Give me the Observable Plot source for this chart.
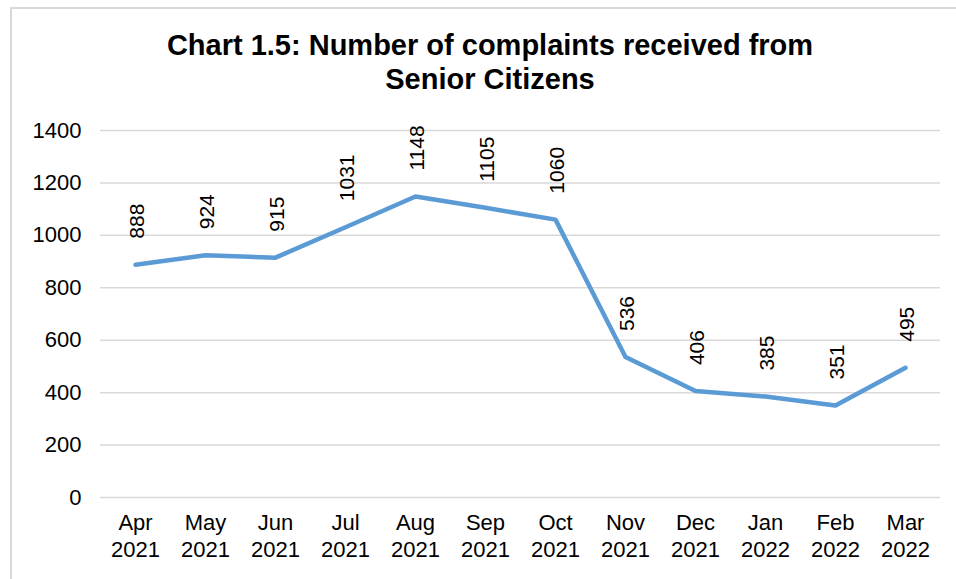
<!DOCTYPE html>
<html>
<head>
<meta charset="utf-8">
<script src="https://cdn.jsdelivr.net/npm/d3@7"></script>
<script src="https://cdn.jsdelivr.net/npm/@observablehq/plot@0.6"></script>
<style>
  body { margin: 0; background: #fff; }
  #wrap { position: relative; width: 956px; height: 579px; overflow: hidden; background: #fff; font-family: "Liberation Sans", Arial, sans-serif; }
  #frame { position: absolute; left: 10px; top: 7px; width: 1000px; height: 1000px; border-left: 2px solid #d9d9d9; border-top: 2px solid #d9d9d9; }
  #title { position: absolute; left: 10px; width: 960px; top: 28px; text-align: center; font-weight: bold; font-size: 29px; line-height: 34px; color: #000; }
  #chart { position: absolute; left: 0; top: 100px; }
</style>
</head>
<body>
<div id="wrap">
  <div id="frame"></div>
  <div id="title">Chart 1.5: Number of complaints received from<br>Senior Citizens</div>
  <div id="chart"></div>
</div>
<script>
const months = ["Apr 2021","May 2021","Jun 2021","Jul 2021","Aug 2021","Sep 2021","Oct 2021","Nov 2021","Dec 2021","Jan 2022","Feb 2022","Mar 2022"];
const complaints = [888, 924, 915, 1031, 1148, 1105, 1060, 536, 406, 385, 351, 495];
const yTicks = [0, 200, 400, 600, 800, 1000, 1200, 1400];

const data = months.map((m, i) => ({month: m, value: complaints[i]}));

const plot = Plot.plot({
  width: 956,
  height: 479,
  marginTop: 30,
  marginBottom: 82,
  marginLeft: 100,
  marginRight: 16,
  style: {fontFamily: '"Liberation Sans", Arial, sans-serif', fontSize: "22px", color: "#000", background: "transparent"},
  x: {type: "point", domain: months, padding: 0.5},
  y: {domain: [0, 1400]},
  marks: [
    Plot.ruleY(yTicks, {stroke: "#d9d9d9", strokeWidth: 1.5}),
    Plot.axisY({ticks: yTicks, tickSize: 0, tickPadding: 19, fontSize: 22, label: null, tickFormat: d => String(d)}),
    Plot.axisX({tickSize: 0, tickPadding: 13, fontSize: 22, lineHeight: 1.23, label: null,
      tickFormat: d => d.replace(" ", "\n")}),
    Plot.line(data, {x: "month", y: "value", stroke: "#5b9bd5", strokeWidth: 4.5, strokeLinejoin: "round", strokeLinecap: "round"}),
    Plot.text(data, {x: "month", y: "value", text: d => String(d.value), rotate: -90, textAnchor: "start", dy: -26, dx: 2, fontSize: 21, fill: "#000"})
  ]
});
document.getElementById("chart").appendChild(plot);
</script>
</body>
</html>
